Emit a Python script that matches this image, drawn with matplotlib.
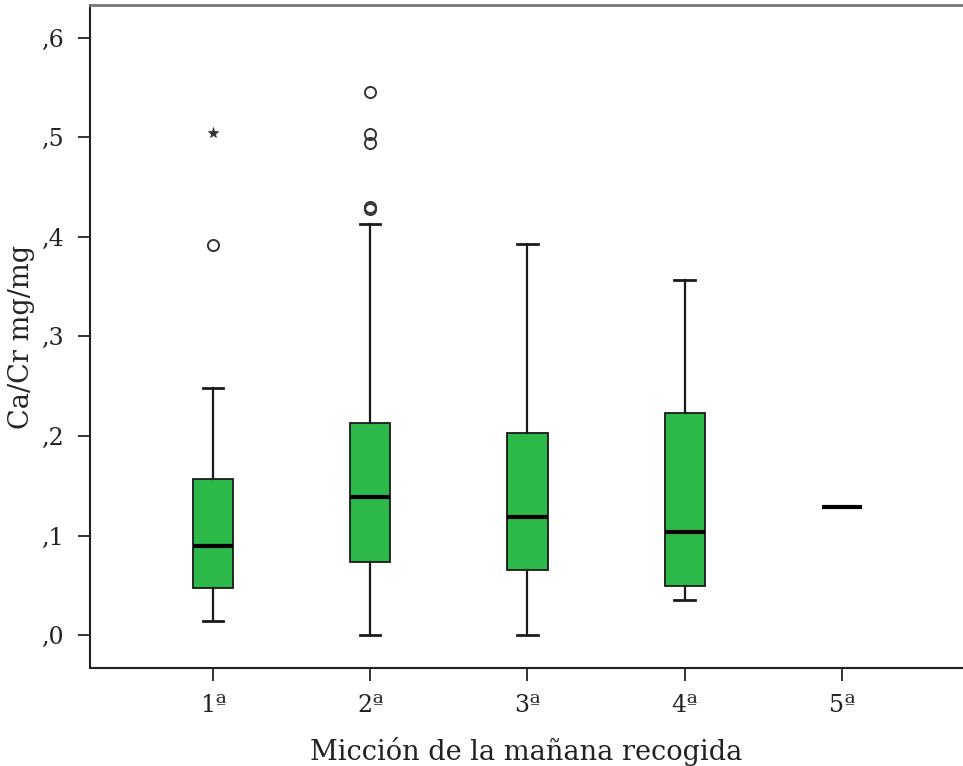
import matplotlib
matplotlib.use("Agg")
import matplotlib.pyplot as plt

plt.rcParams['font.family'] = ['DejaVu Serif']

# boxplot summary (Ca/Cr mg/mg)
groups = ['1ª', '2ª', '3ª', '4ª', '5ª']
whislo = [0.014, 0.000, 0.000, 0.035, 0.129]
q1 = [0.047, 0.073, 0.065, 0.049, 0.129]
med = [0.090, 0.139, 0.119, 0.104, 0.129]
q3 = [0.157, 0.213, 0.203, 0.223, 0.129]
whishi = [0.248, 0.413, 0.393, 0.357, 0.129]
outliers = [[0.392], [0.430, 0.428, 0.494, 0.503, 0.546], [], [], []]
extremes = [[0.504], [], [], [], []]

green = '#2db84a'

fig = plt.figure(figsize=(9.63, 7.66), dpi=100)
ax = fig.add_axes([0.0935, 0.128, 0.9065, 0.8655])

stats = []
for i in range(len(groups)):
    stats.append(dict(med=med[i], q1=q1[i], q3=q3[i], whislo=whislo[i],
                      whishi=whishi[i], fliers=outliers[i], label=groups[i]))

pos = list(range(1, len(groups) + 1))
ax.bxp(stats, positions=pos, widths=0.255, patch_artist=True,
       boxprops=dict(facecolor=green, edgecolor='#1a1a1a', linewidth=1.3),
       medianprops=dict(color='black', linewidth=3),
       whiskerprops=dict(color='#1a1a1a', linewidth=1.6),
       capprops=dict(color='#1a1a1a', linewidth=2),
       capwidths=0.13,
       flierprops=dict(marker='o', markerfacecolor='none', markeredgecolor='#333333',
                       markersize=8, markeredgewidth=1.4))

for i, ex in enumerate(extremes):
    if ex:
        ax.plot([pos[i]] * len(ex), ex, linestyle='none', marker='*', markersize=8,
                markerfacecolor='#333333', markeredgecolor='#333333', markeredgewidth=0.5)

ax.set_xlim(0.218, 5.77)
ax.set_ylim(-0.033, 0.633)
ax.set_yticks([0, 0.1, 0.2, 0.3, 0.4, 0.5, 0.6])
ax.set_yticklabels([',0', ',1', ',2', ',3', ',4', ',5', ',6'])
ax.set_xticks(pos)
ax.set_xticklabels(groups)
ax.tick_params(axis='both', direction='out', length=9, width=1.3, labelsize=17, colors='#222222')
ax.tick_params(axis='y', pad=10)
ax.tick_params(axis='x', pad=10)

ax.spines['right'].set_visible(False)
for s in ['left', 'bottom']:
    ax.spines[s].set_linewidth(1.5)
    ax.spines[s].set_color('#222222')
ax.spines['top'].set_linewidth(2)
ax.spines['top'].set_color('#777777')

ax.set_xlabel('Micción de la mañana recogida', fontsize=19.5, labelpad=14, color='#222222')
ax.set_ylabel('Ca/Cr mg/mg', fontsize=19.5, labelpad=4, color='#222222')

fig.savefig('out.png', dpi=100)
